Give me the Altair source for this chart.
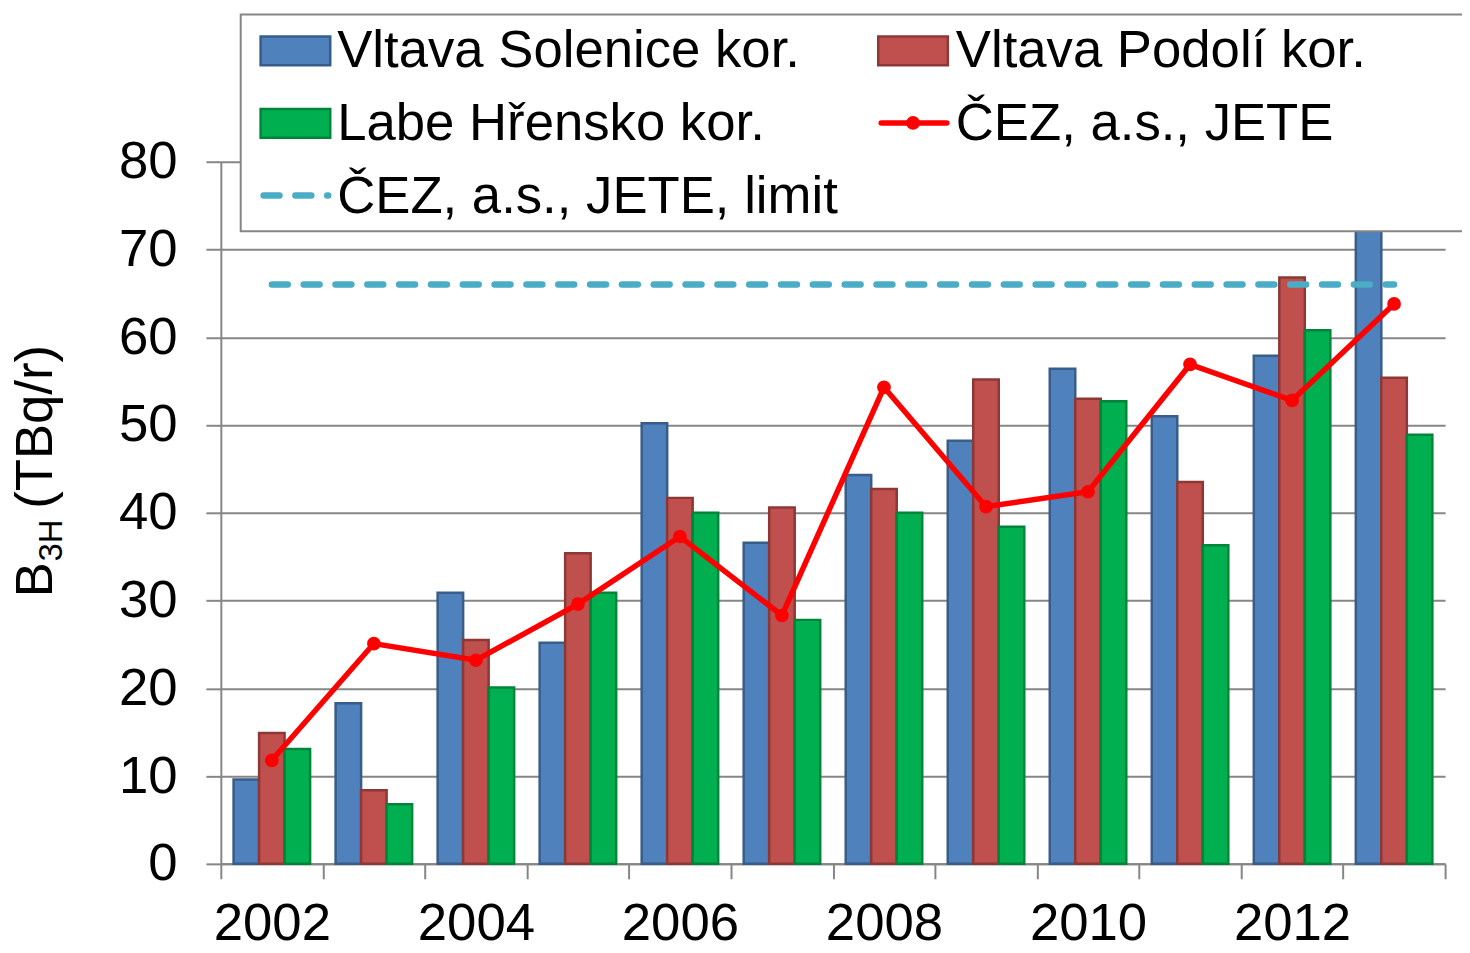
import altair as alt
import pandas as pd

years = ["2002", "2003", "2004", "2005", "2006", "2007", "2008", "2009", "2010", "2011", "2012", "2013"]
solenice = [9.6, 18.3, 30.9, 25.2, 50.2, 36.6, 44.3, 48.2, 56.4, 51.0, 57.9, 76.0]
podoli = [14.9, 8.4, 25.5, 35.4, 41.7, 40.6, 42.7, 55.2, 53.0, 43.5, 66.8, 55.4]
hrensko = [13.1, 6.8, 20.1, 30.9, 40.0, 27.8, 40.0, 38.4, 52.7, 36.3, 60.8, 48.9]
jete = [11.8, 25.1, 23.2, 29.6, 37.3, 28.3, 54.3, 40.7, 42.4, 56.9, 52.8, 63.8]
limit = [66, 66, 66, 66, 66, 66, 66, 66, 66, 66, 66, 66]

series_names = ["Vltava Solenice kor.", "Vltava Podolí kor.", "Labe Hřensko kor."]
series_fill = ["#4F81BD", "#C0504D", "#00B050"]
series_stroke = ["#385D8A", "#8C3836", "#00843C"]
line_name = "ČEZ, a.s., JETE"
limit_name = "ČEZ, a.s., JETE, limit"

FONT = "Liberation Sans"

bars_rows = []
for name, vals in zip(series_names, [solenice, podoli, hrensko]):
    for y, v in zip(years, vals):
        bars_rows.append({"year": y, "series": name, "value": v})
bars_df = pd.DataFrame(bars_rows)
line_df = pd.DataFrame({"year": years, "value": jete})
limit_df = pd.DataFrame({"year": years, "value": limit})
one = pd.DataFrame({"k": [0]})

xscale = alt.Scale(domain=years, paddingInner=0, paddingOuter=0)
yscale = alt.Scale(domain=[0, 80], nice=False)

x_axis = alt.Axis(
    title=None, tickBand="extent", labelExpr="toNumber(datum.value) % 2 == 0 ? datum.label : ''",
    labelFont=FONT, labelFontSize=53, labelColor="#000000", labelPadding=19, labelAngle=0,
    domainColor="#868686", domainWidth=2, tickColor="#868686", tickWidth=2, tickSize=15,
    grid=False,
)
y_axis = alt.Axis(
    title=None, values=[0, 10, 20, 30, 40, 50, 60, 70, 80],
    labelFont=FONT, labelFontSize=53, labelColor="#000000", labelPadding=29,
    domainColor="#868686", domainWidth=2, tickColor="#868686", tickWidth=2, tickSize=15,
    grid=True, gridColor="#868686", gridWidth=2,
)

bars = alt.Chart(bars_df).mark_bar(strokeWidth=2.5).encode(
    x=alt.X("year:N", scale=xscale, axis=x_axis, sort=years),
    xOffset=alt.XOffset("series:N", sort=series_names,
                        scale=alt.Scale(domain=series_names, paddingInner=0, paddingOuter=0.5)),
    y=alt.Y("value:Q", scale=yscale, axis=y_axis),
    color=alt.Color("series:N", scale=alt.Scale(domain=series_names, range=series_fill), legend=None),
    stroke=alt.Stroke("series:N", scale=alt.Scale(domain=series_names, range=series_stroke), legend=None),
)

limit_line = alt.Chart(limit_df).mark_line(
    color="#4BACC6", strokeWidth=6.5, strokeDash=[16, 16], strokeCap="round"
).encode(
    x=alt.X("year:N", scale=xscale, sort=years, bandPosition=0.5),
    y=alt.Y("value:Q", scale=yscale),
)

jete_line = alt.Chart(line_df).mark_line(color="#FF0000", strokeWidth=5.5).encode(
    x=alt.X("year:N", scale=xscale, sort=years, bandPosition=0.5),
    y=alt.Y("value:Q", scale=yscale),
)
jete_pts = alt.Chart(line_df).mark_circle(color="#FF0000", opacity=1, size=190).encode(
    x=alt.X("year:N", scale=xscale, sort=years, bandPosition=0.5),
    y=alt.Y("value:Q", scale=yscale),
)

# legend (drawn by hand, as in the original chart)
leg_box = alt.Chart(one).mark_rect(fill="#FFFFFF", stroke="#868686", strokeWidth=2).encode(
    x=alt.value(20), x2=alt.value(1252), y=alt.value(-148), y2=alt.value(70)
)

def swatch(x0, y0, fill, stroke):
    return alt.Chart(one).mark_rect(fill=fill, stroke=stroke, strokeWidth=2.5).encode(
        x=alt.value(x0), x2=alt.value(x0 + 70), y=alt.value(y0), y2=alt.value(y0 + 29)
    )

def label(x0, y0, txt):
    return alt.Chart(one).mark_text(
        text=txt, font=FONT, fontSize=53, align="left", baseline="alphabetic", color="#000000"
    ).encode(x=alt.value(x0), y=alt.value(y0))

leg_items = [
    swatch(40, -126, series_fill[0], series_stroke[0]),
    label(117, -95, series_names[0]),
    swatch(661, -126, series_fill[1], series_stroke[1]),
    label(739, -95, series_names[1]),
    swatch(40, -53, series_fill[2], series_stroke[2]),
    label(117, -22, series_names[2]),
    alt.Chart(one).mark_rule(color="#FF0000", strokeWidth=5.5, strokeCap="round").encode(
        x=alt.value(664), x2=alt.value(730), y=alt.value(-39)
    ),
    alt.Chart(one).mark_point(filled=True, shape="circle", color="#FF0000", opacity=1, size=190).encode(
        x=alt.value(696), y=alt.value(-39)
    ),
    label(739, -22, line_name),
    alt.Chart(one).mark_rule(color="#4BACC6", strokeWidth=6.5, strokeDash=[16, 16], strokeCap="round").encode(
        x=alt.value(43), x2=alt.value(108), y=alt.value(34)
    ),
    label(117, 52, limit_name),
]

# y-axis title with subscript
ytitle = [
    alt.Chart(one).mark_text(text="B", font=FONT, fontSize=53, angle=270, align="left",
                             baseline="alphabetic", color="#000000").encode(
        x=alt.value(-170), y=alt.value(438)),
    alt.Chart(one).mark_text(text="3H", font=FONT, fontSize=33, angle=270, align="left",
                             baseline="alphabetic", color="#000000").encode(
        x=alt.value(-160), y=alt.value(402)),
    alt.Chart(one).mark_text(text="(TBq/r)", font=FONT, fontSize=53, angle=270, align="left",
                             baseline="alphabetic", color="#000000").encode(
        x=alt.value(-170), y=alt.value(349)),
]

chart = alt.layer(
    bars, limit_line, jete_line, jete_pts, leg_box, *leg_items, *ytitle
).properties(
    width=1231, height=706,
    autosize=alt.AutoSizeParams(type="none"),
    padding={"left": 214, "top": 152, "right": 17, "bottom": 78},
    background="#FFFFFF",
).configure_view(stroke=None)

chart.save("out.html", embed_options={"renderer": "svg", "actions": False})
